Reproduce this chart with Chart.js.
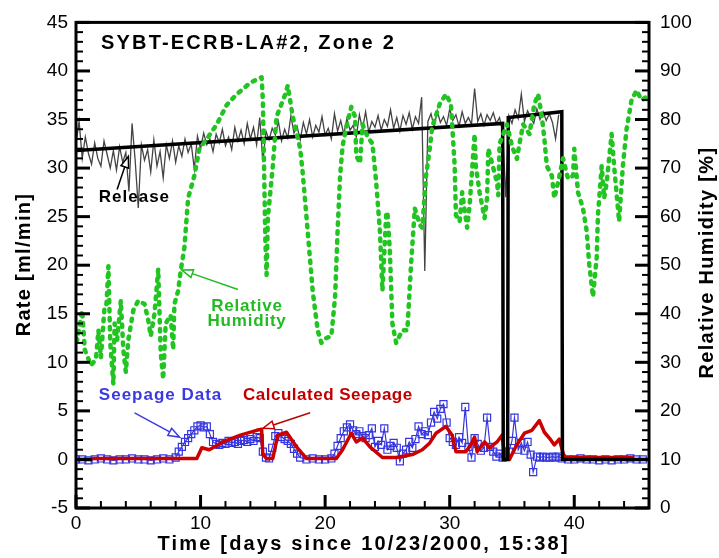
<!DOCTYPE html>
<html>
<head>
<meta charset="utf-8">
<script src="https://cdn.jsdelivr.net/npm/chart.js@4.4.0/dist/chart.umd.min.js"></script>
<style>
  html, body { margin: 0; padding: 0; background: #fff; }
  canvas { display: block; }
</style>
</head>
<body>
<canvas id="myChart" width="719" height="558"></canvas>
<script>
Chart.defaults.color = '#000';
Chart.defaults.font.family = "'Liberation Sans', Arial, sans-serif";
Chart.defaults.font.size = 19;

// measured release rate, one reading every 6 hours from day 0
const releaseStep = 0.25;
const releaseRate = [
  32.5, 34.8, 31.0, 33.2,  31.5, 30.4, 32.6, 31.0,  30.2, 32.8, 31.4, 30.0,
  31.8, 29.8, 32.2, 30.6,  31.6, 27.6, 34.6, 30.8,  25.9, 32.4, 30.8, 31.9,
  29.6, 32.9, 30.2, 31.7,  29.0, 32.4, 31.0, 32.8,  30.6, 32.3, 31.2, 33.0,
  31.6, 32.5, 29.9, 33.3,  32.0, 33.6, 32.4, 33.0,  31.7, 33.5, 32.6, 34.0,
  32.3, 33.2, 31.9, 34.2,  32.8, 33.9, 32.5, 34.6,  33.0, 34.2, 32.4, 35.2,
  30.6, 33.8, 32.9, 34.1,  33.4, 34.8, 32.8, 34.0,  33.1, 35.4, 33.6, 34.3,
  32.9, 34.7, 33.5, 35.0,  33.2, 34.4, 33.7, 35.3,  33.4, 34.1, 33.0, 35.6,
  33.8, 34.9, 33.5, 35.1,  33.9, 34.4, 33.2, 35.5,  34.0, 35.8, 33.7, 34.8,
  34.2, 35.4, 33.9, 35.0,  34.3, 36.0, 34.1, 35.2,  33.8, 35.4, 34.5, 35.7,
  34.0, 35.3, 34.6, 37.3,  19.4, 34.8, 35.6, 34.2,  35.9, 34.7, 35.3, 34.4,
  36.1, 34.9, 35.5, 34.3,  35.8, 34.6, 35.2, 34.5,  38.2, 34.8, 35.6, 34.4,
  35.5, 34.9, 35.7, 34.6,  35.2, 33.8, 27.0, 35.4,  34.6, 36.0, 35.1, 37.6,
  34.8, 35.9, 35.2, 34.6,  36.1, 35.0, 35.8, 34.9,  35.6, 34.7, 33.0, 35.5
];

// release rate used in the model
const modelDays = [0, 34.25, 34.3, 34.65, 34.7, 39.0, 39.05, 46];
const modelRate = [31.8, 34.6, 0, 0, 35.2, 35.8, 0, 0];
const startDays = [0, 1.3];
const startRate = [0, 0];

// relative humidity [%]
const humidityDays = [
  0, 0.1, 0.5, 0.7, 1.2, 1.6, 1.8, 2.0, 2.3, 2.45, 2.6, 2.75, 3.0, 3.1, 3.3, 3.6, 3.8, 4.0, 4.2, 4.6,
  5.0, 5.5, 5.8, 6.0, 6.3, 6.6, 6.8, 7.0, 7.2, 7.6, 7.8, 7.9, 8.2, 8.4, 8.7, 9.0, 9.5, 9.9, 10.5, 11.3,
  12.1, 12.9, 14.0, 14.9, 15.0, 15.1, 15.2, 15.3, 15.4, 15.8, 16.1, 16.8, 17.0, 17.4, 18.0, 18.2, 18.6, 19.0, 19.4, 19.7,
  20.1, 20.5, 20.8, 21.0, 21.2, 21.4, 21.7, 22.1, 22.4, 22.5, 22.8, 23.0, 23.4, 23.8, 24.1, 24.4, 24.6, 24.9, 25.0, 25.2,
  25.4, 25.7, 26.2, 26.6, 26.9, 27.2, 27.6, 27.8, 28.1, 28.4, 28.6, 29.2, 29.7, 30.1, 30.4, 30.5, 30.8, 31.0, 31.4, 31.6,
  32.0, 32.1, 32.4, 32.8, 33.0, 33.1, 33.4, 33.8, 33.9, 34.0, 34.3, 34.6, 35.0, 35.4, 35.6, 35.9, 36.4, 36.8, 37.1, 37.4,
  37.6, 37.8, 38.2, 38.4, 38.7, 39.1, 39.5, 39.9, 40.0, 40.3, 40.7, 41.0, 41.2, 41.5, 41.8, 41.9, 42.2, 42.4, 42.6, 43.0,
  43.2, 43.6, 43.9, 44.2, 44.6, 45.0, 45.4, 46.0
];
const humidity = [
  35, 34.6, 40.7, 32.6, 29.4, 30.6, 36.6, 31, 41.7, 42, 49.8, 34, 25.5, 38, 34.6, 42.7, 32.6, 28, 34.6, 40.7,
  42.7, 42, 38.7, 35.4, 40, 49.2, 32, 26.5, 38, 39.7, 32.6, 42, 44.7, 48.8, 53.6, 63.8, 68.4, 73.9, 76, 79,
  83, 85.2, 87.6, 88.7, 84, 70, 55, 48, 59.7, 70.4, 80.6, 85.2, 87, 80.6, 74, 69, 57, 44.7, 36.6, 34,
  35, 35.4, 43.5, 57, 68.4, 74.5, 78.5, 82.6, 80.6, 72.5, 71, 79, 76.5, 75, 67, 57, 44.7, 60.3, 61, 52.8,
  38, 34, 36.6, 36.6, 50.2, 61.7, 58.3, 57.7, 68.4, 74, 78.5, 83.2, 85.2, 83.2, 70.4, 60.3, 59, 65, 57.7, 62.3,
  77, 70.4, 65, 59.7, 63.8, 74, 71, 67, 64.4, 75, 77, 79, 74.5, 71.9, 75, 79, 77, 83.2, 85.2, 80.6,
  76, 70.4, 68.4, 63.8, 67, 72, 67.8, 68.4, 74, 65, 61.7, 57, 50.2, 43.5, 51.6, 60.3, 70.4, 63.8, 67, 77,
  70.4, 59, 70.4, 78, 84, 86, 84, 85
];

// measured seepage [ml/min]
const seepageDays = [
  0, 0.5, 1, 1.5, 2, 2.5, 3, 3.5, 4, 4.5, 5, 5.5, 6, 6.5, 7, 7.5,
  8.0, 8.25, 8.5, 8.75, 9.0, 9.25, 9.5, 9.75, 10.0, 10.25, 10.5, 10.75, 11.0, 11.25, 11.5, 11.75,
  12.0, 12.25, 12.5, 12.75, 13.0, 13.25, 13.5, 13.75, 14.0, 14.25, 14.5, 14.75, 15.0, 15.25, 15.5, 15.75,
  16.0, 16.25, 16.5, 16.75, 17.0, 17.25, 17.5, 17.75, 18.0, 18.5, 19, 19.5, 20, 20.5,
  20.75, 21.0, 21.25, 21.5, 21.75, 22.0, 22.25, 22.5, 22.75, 23.0, 23.25, 23.5, 23.75, 24.0, 24.25, 24.5,
  24.75, 25.0, 25.25, 25.5, 25.75, 26.0, 26.25, 26.5, 26.75, 27.0, 27.25, 27.5, 27.75, 28.0, 28.25, 28.5,
  28.75, 29.0, 29.25, 29.5, 29.75, 30.0, 30.25, 30.5, 30.75, 31.0, 31.25, 31.5, 31.75, 32.0, 32.25, 32.5,
  32.75, 33.0, 33.25, 33.5, 33.75, 34.0, 34.25, 34.5, 34.75, 35.0, 35.2, 35.5, 35.75, 36.0, 36.25, 36.5,
  36.7, 37.0, 37.25, 37.5, 37.75, 38.0, 38.25, 38.5, 38.75, 39.0, 39.5, 40, 40.5, 41, 41.5, 42,
  42.5, 43, 43.5, 44, 44.5, 45, 45.5
];
const seepage = [
  0, 0, -0.1, 0, 0.1, 0, -0.1, 0, 0, 0.1, 0, 0, -0.1, 0, 0.1, 0,
  0.2, 0.8, 1.3, 1.8, 2.2, 2.6, 3.0, 3.4, 3.5, 3.3, 3.4, 2.6, 1.8, 1.6, 1.5, 1.7,
  1.6, 1.9, 1.7, 1.8, 1.6, 1.9, 2.0, 1.8, 2.1, 1.9, 2.3, 2.2, 0.8, 0.2, 0.1, 1.2,
  2.4, 2.7, 2.3, 2.1, 1.9, 1.6, 1.1, 0.6, 0.2, 0, 0.1, 0, 0, 0.1,
  0.6, 1.4, 2.2, 2.9, 3.3, 3.6, 3.0, 2.6, 2.9, 2.4, 2.2, 2.5, 3.2, 1.3, 1.9, 1.5,
  3.2, 1.0, 1.4, 1.7, 1.2, -0.2, 0.6, 1.0, 1.8, 1.2, 2.1, 3.4, 2.6, 2.9, 2.5, 3.8,
  4.9, 4.2, 5.2, 5.7, 3.8, 2.2, 1.8, 1.5, 2.3, 1.7, 5.4, 1.3, 0.2, 2.2, 1.6, 0.9,
  1.2, 4.3, 1.3, 0.8, 0.3, 0.6, 0.2, 0.4, 0.8, 1.9, 4.3, 1.0, 1.7, 0.9, 1.8, 0.5,
  -1.3, 0.3, 0.2, 0.3, 0.2, 0.2, 0.3, 0.2, 0.3, 0.1, 0, 0, 0.1, 0, 0, -0.1,
  0, -0.1, 0, 0, 0.1, 0, 0
];

// calculated seepage [ml/min]
const calcDays = [
  1.3, 9.7, 10.1, 10.7, 11.8, 13.2, 14.5, 14.9, 15.0, 15.3, 15.8, 16.2, 16.9, 17.7, 18.5, 20.9, 21.4,
  22.1, 22.5, 23.0, 23.6, 24.6, 25.7, 27.0, 27.8, 28.4, 28.9, 29.7, 30.2, 30.5, 31.3, 31.7, 32.0,
  32.2, 32.8, 33.2, 33.8, 34.2, 34.4, 34.8, 35.3, 36.0, 36.6, 37.2, 37.6, 38.0, 38.4, 38.8, 39.2, 44.8
];
const calcSeepage = [
  0.1, 0.1, 1.2, 1.0, 1.8, 2.5, 3.0, 3.1, 0.5, 0.1, 0.1, 2.5, 2.8, 1.3, 0.1, 0.1, 1.0,
  2.7, 1.8, 2.2, 1.3, 0.2, 0.2, 0.5, 1.0, 1.7, 2.7, 3.4, 2.5, 0.8, 0.8, 1.5, 2.3,
  0.8, 1.8, 1.2, 1.8, 2.5, 0.5, 0.0, 1.3, 2.7, 3.0, 4.0, 2.8, 2.2, 1.5, 2.1, 0.2, 0.2
];

const pts = (xs, ys) => xs.map((x, i) => ({ x: x, y: ys[i] }));
const releasePts = releaseRate.map((v, i) => ({ x: i * releaseStep, y: v }));

function arrow(ctx, x1, y1, x2, y2, color) {
  const a = Math.atan2(y2 - y1, x2 - x1);
  const len = 11, w = 4;
  const bx = x2 - len * Math.cos(a), by = y2 - len * Math.sin(a);
  ctx.strokeStyle = color;
  ctx.lineWidth = 1.5;
  ctx.beginPath(); ctx.moveTo(x1, y1); ctx.lineTo(bx, by); ctx.stroke();
  ctx.beginPath();
  ctx.moveTo(x2, y2);
  ctx.lineTo(bx + w * Math.sin(a), by - w * Math.cos(a));
  ctx.lineTo(bx - w * Math.sin(a), by + w * Math.cos(a));
  ctx.closePath();
  ctx.fillStyle = '#fff';
  ctx.fill();
  ctx.stroke();
}

function label(ctx, text, x, y, color, font, spacing, align, rot) {
  ctx.save();
  ctx.translate(x, y);
  if (rot) ctx.rotate(rot);
  ctx.font = font;
  ctx.letterSpacing = spacing + 'px';
  ctx.fillStyle = color;
  ctx.textAlign = align || 'center';
  ctx.textBaseline = 'middle';
  ctx.fillText(text, align === 'left' ? 0 : spacing / 2, 0);
  ctx.restore();
}

// frame, inward tick marks, axis titles and the notes in the plot
const decorations = {
  id: 'decorations',
  afterDatasetsDraw(chart) {
    const { ctx, chartArea: a, scales } = chart;
    const x = scales.x, y = scales.y, y1 = scales.y1;
    ctx.save();
    ctx.strokeStyle = '#000';
    ctx.lineWidth = 3;
    ctx.strokeRect(a.left, a.top, a.right - a.left, a.bottom - a.top);

    const tick = (x0, y0, x1, y1, major) => {
      ctx.lineWidth = major ? 3 : 2;
      ctx.beginPath(); ctx.moveTo(x0, y0); ctx.lineTo(x1, y1); ctx.stroke();
    };
    for (let v = 0; v <= 46; v += 2) {
      const px = x.getPixelForValue(v), major = v % 10 === 0;
      tick(px, a.bottom, px, a.bottom - (major ? 13 : 7), major);
    }
    for (let v = -5; v <= 45; v += 1) {
      const py = y.getPixelForValue(v), major = v % 5 === 0;
      tick(a.left, py, a.left + (major ? 14 : 7), py, major);
    }
    for (let v = 0; v <= 100; v += 2) {
      const py = y1.getPixelForValue(v), major = v % 10 === 0;
      tick(a.right, py, a.right - (major ? 14 : 7), py, major);
    }

    const bold20 = "bold 20px 'Liberation Sans', Arial, sans-serif";
    const bold17 = "bold 17px 'Liberation Sans', Arial, sans-serif";
    const midY = (a.top + a.bottom) / 2;
    label(ctx, 'Time [days since 10/23/2000, 15:38]', (a.left + a.right) / 2, 544, '#000', bold20, 2.2);
    label(ctx, 'Rate [ml/min]', 24, midY, '#000', bold20, 1.3, 'center', -Math.PI / 2);
    label(ctx, 'Relative Humidity [%]', 707, midY - 2, '#000', bold20, 1.3, 'center', -Math.PI / 2);

    const X = v => x.getPixelForValue(v), Y = v => y.getPixelForValue(v);
    label(ctx, 'SYBT-ECRB-LA#2, Zone 2', X(2.0), Y(42.8), '#000', bold20, 2.2, 'left');
    label(ctx, 'Release', X(4.65), Y(27.0), '#000', bold17, 1);
    arrow(ctx, X(3.3), Y(27.8), X(4.2), Y(31.2), '#000');
    label(ctx, 'Relative', X(13.7), Y(15.8), '#22bb22', bold17, 0.8);
    label(ctx, 'Humidity', X(13.7), Y(14.2), '#22bb22', bold17, 0.8);
    arrow(ctx, X(13.0), Y(17.5), X(8.5), Y(19.5), '#22bb22');
    label(ctx, 'Seepage Data', X(6.75), Y(6.6), '#3a3ae0', bold17, 1);
    arrow(ctx, X(4.7), Y(4.8), X(8.3), Y(2.3), '#3a3ae0');
    label(ctx, 'Calculated Seepage', X(20.2), Y(6.6), '#c00000', bold17, 0.5);
    arrow(ctx, X(18.8), Y(4.8), X(15.0), Y(3.2), '#c00000');
    ctx.restore();
  }
};

const ctx = document.getElementById('myChart');

new Chart(ctx, {
  type: 'line',
  data: {
    datasets: [
      {
        label: 'Relative Humidity',
        data: pts(humidityDays, humidity),
        yAxisID: 'y1',
        borderColor: '#22c422',
        borderWidth: 4.5,
        borderDash: [2.5, 6.5],
        borderCapStyle: 'round',
        borderJoinStyle: 'round',
        pointRadius: 0,
        order: 1
      },
      {
        label: 'Model release',
        data: pts(modelDays, modelRate),
        borderColor: '#000',
        borderWidth: 3.5,
        pointRadius: 0,
        order: 2
      },
      {
        label: 'Start',
        data: pts(startDays, startRate),
        borderColor: '#000',
        borderWidth: 3.5,
        pointRadius: 0,
        order: 2
      },
      {
        label: 'Calculated Seepage',
        data: pts(calcDays, calcSeepage),
        borderColor: '#cc0000',
        borderWidth: 3.5,
        borderJoinStyle: 'round',
        pointRadius: 0,
        order: 3
      },
      {
        label: 'Seepage Data',
        data: pts(seepageDays, seepage),
        borderColor: '#3535e0',
        borderWidth: 1.2,
        pointStyle: 'rect',
        pointRadius: 5,
        pointBorderWidth: 1.2,
        pointBorderColor: '#3535e0',
        pointBackgroundColor: 'rgba(0,0,0,0)',
        order: 4
      },
      {
        label: 'Release',
        data: releasePts,
        borderColor: '#444',
        borderWidth: 1.3,
        pointRadius: 0,
        order: 5
      }
    ]
  },
  options: {
    responsive: false,
    animation: false,
    devicePixelRatio: 1,
    layout: { padding: { top: 14 } },
    plugins: {
      legend: { display: false },
      tooltip: { enabled: false }
    },
    scales: {
      x: {
        type: 'linear',
        min: 0,
        max: 46,
        grid: { display: false, drawTicks: false },
        border: { display: false },
        ticks: { stepSize: 10, includeBounds: false, padding: 4, maxRotation: 0 },
        afterFit: s => { s.height = 50; }
      },
      y: {
        position: 'left',
        min: -5,
        max: 45,
        grid: { display: false, drawTicks: false },
        border: { display: false },
        ticks: { stepSize: 5, padding: 8 },
        afterFit: s => { s.width = 76; }
      },
      y1: {
        position: 'right',
        min: 0,
        max: 100,
        grid: { display: false, drawTicks: false },
        border: { display: false },
        ticks: { stepSize: 10, padding: 11 },
        afterFit: s => { s.width = 70; }
      }
    }
  },
  plugins: [decorations]
});
</script>
</body>
</html>
